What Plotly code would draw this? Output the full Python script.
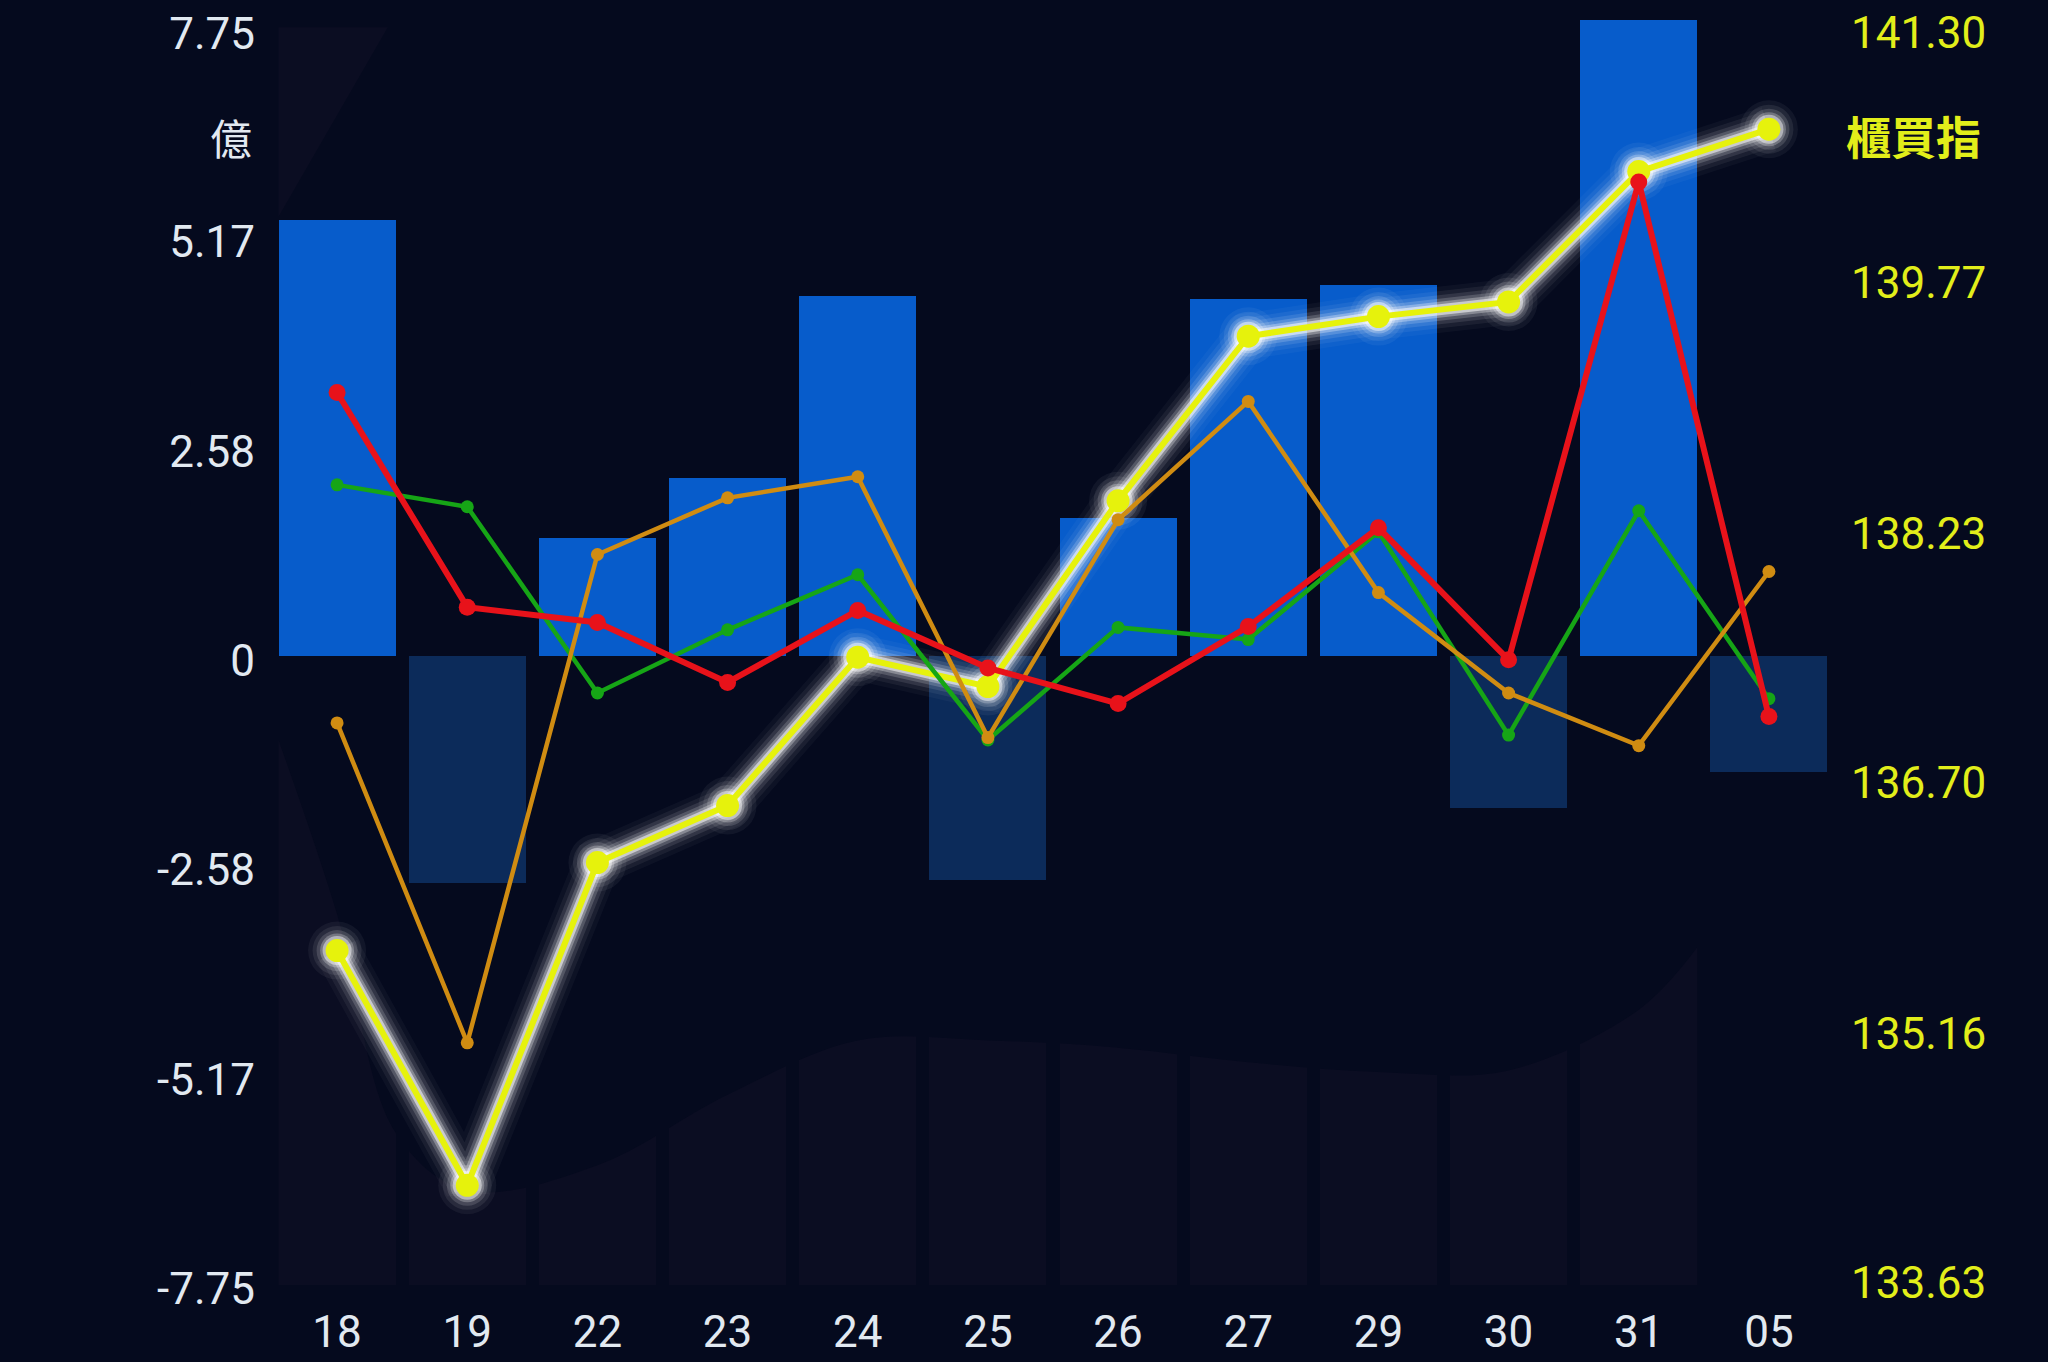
import plotly.graph_objects as go

# ---------------- data ----------------
dates = ["18", "19", "22", "23", "24", "25", "26", "27", "29", "30", "31", "05"]
net_buy = [5.38, -2.81, 1.46, 2.20, 4.44, -2.77, 1.70, 4.41, 4.58, -1.88, 7.85, -1.43]
index_close = [135.67, 134.23, 136.21, 136.56, 137.47, 137.29, 138.43, 139.44, 139.56, 139.65, 140.45, 140.71]
red_series = [3.25, 0.60, 0.41, -0.33, 0.56, -0.15, -0.59, 0.36, 1.58, -0.05, 5.85, -0.75]
green_series = [2.11, 1.84, -0.46, 0.32, 1.00, -1.04, 0.35, 0.20, 1.53, -0.98, 1.79, -0.53]
orange_series = [-0.83, -4.78, 1.25, 1.95, 2.21, -1.01, 1.68, 3.14, 0.78, -0.46, -1.11, 1.04]

left_ticks = [-7.75, -5.17, -2.58, 0, 2.58, 5.17, 7.75]
left_ticktext = ["-7.75", "-5.17", "-2.58", "0", "2.58", "5.17", "7.75"]
right_ticks = [133.63, 135.16, 136.70, 138.23, 139.77, 141.30]
right_ticktext = ["133.63", "135.16", "136.70", "138.23", "139.77", "141.30"]

# faint background envelope (heights above the chart bottom, in 億 units)
shadow_x = [-0.45, 0, 0.45, 1, 2, 3, 4, 5, 6, 7, 8, 9, 10, 10.45]
shadow_lower = [6.73, 4.58, 1.88, 1.17, 1.48, 2.35, 3.02, 3.02, 2.93, 2.75, 2.63, 2.65, 3.40, 4.17]
shadow_upper_x = [-0.45, 0.39, -0.45]
shadow_upper = [13.19, 15.53, 15.53]
gap_x = [0.5, 1.5, 2.5, 3.5, 4.5, 5.5, 6.5, 7.5, 8.5, 9.5]

# ---------------- styles ----------------
BG = "#050a1e"
POS = "#075ccb"
NEG = "#0c2b5a"
RED = "#e8121a"
GREEN = "#16a516"
ORANGE = "#d08c12"
YELLOW = "#e6f20c"
SHADOW = "#0b0d22"
LEFT_LAB = "#e2e9f1"
RIGHT_LAB = "#e2ee1a"

L_RANGE = [-7.77, 7.85]
R_RANGE = [133.618, 141.38]
S_RANGE = [0, L_RANGE[1] - L_RANGE[0]]

xs = list(range(len(dates)))

fig = go.Figure()

# --- shadow envelope (base subplot) ---
fig.add_trace(go.Scatter(x=shadow_x, y=shadow_lower, mode="lines", line=dict(width=0, shape="spline", color=SHADOW),
                         fill="tozeroy", fillcolor=SHADOW, hoverinfo="skip", showlegend=False,
                         xaxis="x", yaxis="y"))
fig.add_trace(go.Scatter(x=shadow_upper_x, y=shadow_upper, mode="lines", line=dict(width=0, color=SHADOW),
                         fill="toself", fillcolor=SHADOW, hoverinfo="skip", showlegend=False,
                         xaxis="x", yaxis="y"))

# --- gaps + main bars (y2, left axis) ---
fig.add_trace(go.Bar(x=gap_x, y=[L_RANGE[1] - L_RANGE[0]] * len(gap_x), base=L_RANGE[0], width=0.1,
                     marker=dict(color=BG, line=dict(width=0)), hoverinfo="skip", showlegend=False,
                     xaxis="x", yaxis="y2"))
fig.add_trace(go.Bar(x=xs, y=net_buy, width=0.9,
                     marker=dict(color=[POS if v >= 0 else NEG for v in net_buy], line=dict(width=0)),
                     showlegend=False, xaxis="x", yaxis="y2"))

# --- index line with glow (y3, right axis) ---
for w, a in [(46, 0.035), (37, 0.06), (29, 0.1), (22, 0.17), (16, 0.3), (11, 0.55)]:
    fig.add_trace(go.Scatter(x=xs, y=index_close, mode="lines",
                             line=dict(color=f"rgba(255,255,255,{a})", width=w),
                             hoverinfo="skip", showlegend=False, xaxis="x", yaxis="y3"))
for s, a in [(58, 0.05), (49, 0.08), (41, 0.14), (34, 0.25), (29, 0.45)]:
    fig.add_trace(go.Scatter(x=xs, y=index_close, mode="markers",
                             marker=dict(color=f"rgba(255,255,255,{a})", size=s, line=dict(width=0)),
                             hoverinfo="skip", showlegend=False, xaxis="x", yaxis="y3"))
fig.add_trace(go.Scatter(x=xs, y=index_close, mode="lines+markers",
                         line=dict(color=YELLOW, width=6), marker=dict(color=YELLOW, size=23),
                         showlegend=False, xaxis="x", yaxis="y3"))

# --- flow lines (y4, same scale as left axis) ---
fig.add_trace(go.Scatter(x=xs, y=green_series, mode="lines+markers",
                         line=dict(color=GREEN, width=4.5), marker=dict(color=GREEN, size=13),
                         showlegend=False, xaxis="x", yaxis="y4"))
fig.add_trace(go.Scatter(x=xs, y=orange_series, mode="lines+markers",
                         line=dict(color=ORANGE, width=4.5), marker=dict(color=ORANGE, size=13),
                         showlegend=False, xaxis="x", yaxis="y4"))
fig.add_trace(go.Scatter(x=xs, y=red_series, mode="lines+markers",
                         line=dict(color=RED, width=6), marker=dict(color=RED, size=17),
                         showlegend=False, xaxis="x", yaxis="y4"))

axis_common = dict(showgrid=False, zeroline=False, showline=False, ticks="", automargin=False)

fig.update_layout(
    width=2048, height=1362,
    margin=dict(l=272, r=214, t=20, b=77, pad=0),
    paper_bgcolor=BG, plot_bgcolor=BG,
    barmode="overlay", bargap=0,
    font=dict(family="Roboto, 'Noto Sans CJK TC', sans-serif"),
    xaxis=dict(range=[-0.5, 11.5], tickvals=xs, ticktext=dates, tickfont=dict(size=44, color=LEFT_LAB),
               ticklabelstandoff=17, **axis_common),
    yaxis=dict(range=S_RANGE, showticklabels=False, **axis_common),
    yaxis2=dict(range=L_RANGE, overlaying="y", side="left", tickvals=left_ticks, ticktext=left_ticktext,
                tickfont=dict(size=44, color=LEFT_LAB), ticklabelstandoff=16, ticklabelshift=5,
                **axis_common),
    yaxis3=dict(range=R_RANGE, overlaying="y", side="right", tickvals=right_ticks, ticktext=right_ticktext,
                tickfont=dict(size=44, color=RIGHT_LAB), ticklabelstandoff=16, **axis_common),
    yaxis4=dict(range=L_RANGE, overlaying="y", side="left", showticklabels=False, **axis_common),
    annotations=[
        dict(text="億", xref="paper", yref="paper", x=-0.0115, y=0.908, xanchor="right", yanchor="middle",
             showarrow=False, font=dict(size=42, color=LEFT_LAB, family="'Noto Sans CJK TC', sans-serif")),
        dict(text="<b>櫃買指</b>", xref="paper", yref="paper", x=1.0065, y=0.909, xanchor="left", yanchor="middle",
             showarrow=False, font=dict(size=45, color=RIGHT_LAB, family="'Noto Sans CJK TC', sans-serif")),
    ],
)

fig.write_html("out.html", config={"displayModeBar": False},
               post_script="document.body.style.margin='0';document.body.style.background='%s';document.body.style.overflow='hidden';" % BG)
